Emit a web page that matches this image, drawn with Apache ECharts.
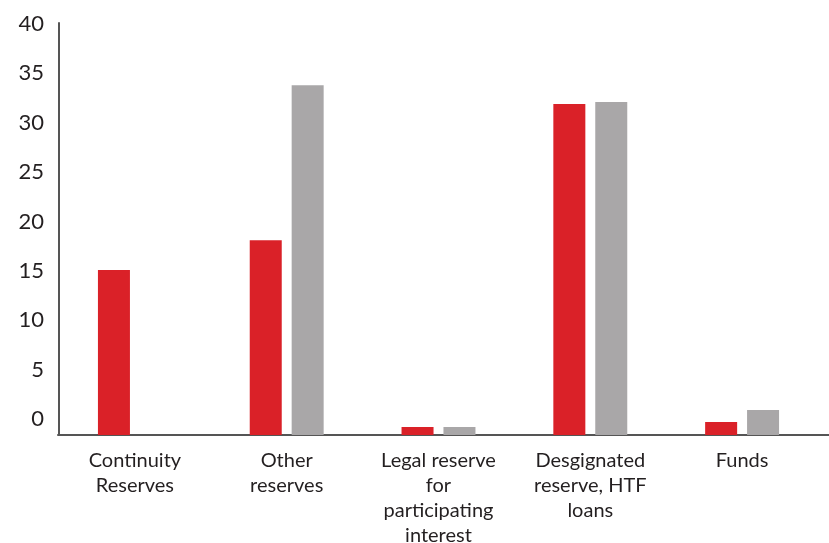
<!DOCTYPE html>
<html>
<head>
<meta charset="utf-8">
<script src="https://cdn.jsdelivr.net/npm/echarts@6/dist/echarts.min.js"></script>
<style>html,body{margin:0;padding:0;background:#fff;}#c{width:829px;height:543px;}</style>
</head>
<body>
<div id="c"></div>
<script>
const categories = ['Continuity\nReserves', 'Other\nreserves', 'Legal reserve\nfor\nparticipating\ninterest', 'Desgignated\nreserve, HTF\nloans', 'Funds'];
const seriesRed = [15.1, 18.1, -0.8, 31.9, -0.3];
const seriesGrey = [null, 33.8, -0.8, 32.1, 0.9];
const yTickLabels = [0, 5, 10, 15, 20, 25, 30, 35, 40];

const chart = echarts.init(document.getElementById('c'));
chart.setOption({
  animation: false,
  grid: [
    { left: 59, right: 11, top: 23, bottom: 108, outerBoundsMode: 'none', containLabel: false },
    { left: 58, right: 0, top: 23, bottom: 108, outerBoundsMode: 'none', containLabel: false }
  ],
  xAxis: [
    {
      type: 'category', data: categories, gridIndex: 0,
      axisLine: { onZero: false, lineStyle: { color: '#555', width: 2 } },
      axisTick: { show: false },
      axisLabel: { color: '#231f20', fontFamily: 'Lato', fontSize: 20, lineHeight: 25, margin: 13, interval: 0 }
    },
    {
      type: 'value', gridIndex: 1, min: 0, max: 1,
      axisLine: { show: true, onZero: false, lineStyle: { color: '#555', width: 2 } },
      axisTick: { show: false }, axisLabel: { show: false }, splitLine: { show: false }
    }
  ],
  yAxis: [
    {
      type: 'value', gridIndex: 0, min: -1.62, max: 40.1, startValue: -1.62,
      axisLine: { show: true, onZero: false, lineStyle: { color: '#555', width: 2 } },
      axisTick: { show: false },
      splitLine: { show: false },
      axisLabel: { customValues: yTickLabels, color: '#231f20', fontFamily: 'Lato', fontSize: 22, margin: 15 }
    },
    {
      type: 'value', gridIndex: 1, show: false, min: 0, max: 1
    }
  ],
  series: [
    { type: 'bar', data: seriesRed, barWidth: 32, barGap: '31%', itemStyle: { color: '#DA2128' } },
    { type: 'bar', data: seriesGrey, barWidth: 32, barGap: '31%', itemStyle: { color: '#A9A7A8' } }
  ]
});
</script>
</body>
</html>
